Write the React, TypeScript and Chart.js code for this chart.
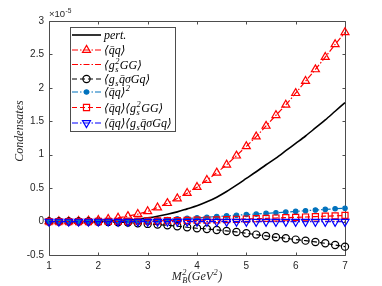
import React, { useEffect, useRef } from 'react';
import { Chart, registerables } from 'chart.js';
import { drawPoint } from 'chart.js/helpers';

Chart.register(...registerables);

// Borel parameter M_B^2 (GeV^2)
const M2 = [1.0, 1.2, 1.4, 1.6, 1.8, 2.0, 2.2, 2.4, 2.6, 2.8, 3.0, 3.2, 3.4, 3.6, 3.8, 4.0, 4.2, 4.4, 4.6, 4.8, 5.0, 5.2, 5.4, 5.6, 5.8, 6.0, 6.2, 6.4, 6.6, 6.8, 7.0];

// values in units of 1e-5
const PERT = [0, 0, 0, 0, 0.001, 0.003, 0.007, 0.013, 0.022, 0.035, 0.055, 0.08, 0.11, 0.145, 0.19, 0.235, 0.295, 0.365, 0.45, 0.545, 0.645, 0.745, 0.85, 0.95, 1.06, 1.17, 1.28, 1.40, 1.52, 1.65, 1.78];
const QQ = [0.002, 0.003, 0.004, 0.006, 0.012, 0.022, 0.036, 0.055, 0.08, 0.112, 0.152, 0.21, 0.275, 0.345, 0.425, 0.515, 0.62, 0.73, 0.85, 0.985, 1.125, 1.27, 1.43, 1.59, 1.745, 1.92, 2.10, 2.275, 2.46, 2.65, 2.83];
const GGG = [0.001, 0.001, 0.001, 0.002, 0.002, 0.002, 0.002, 0.003, 0.003, 0.003, 0.003, 0.003, 0.003, 0.004, 0.004, 0.004, 0.004, 0.004, 0.004, 0.004, 0.005, 0.005, 0.005, 0.005, 0.005, 0.005, 0.005, 0.005, 0.005, 0.005, 0.005];
const MIXED = [0, 0, 0, 0, 0, -0.002, -0.005, -0.01, -0.015, -0.025, -0.035, -0.045, -0.055, -0.07, -0.085, -0.1, -0.11, -0.125, -0.14, -0.155, -0.175, -0.195, -0.215, -0.235, -0.25, -0.27, -0.285, -0.305, -0.325, -0.35, -0.375];
const QQ2 = [0, 0, 0, 0.001, 0.001, 0.002, 0.003, 0.005, 0.01, 0.015, 0.02, 0.025, 0.032, 0.04, 0.048, 0.055, 0.065, 0.075, 0.085, 0.095, 0.105, 0.112, 0.122, 0.132, 0.142, 0.152, 0.162, 0.172, 0.182, 0.192, 0.2];
const QQ_GG = [0, 0, 0, 0, 0, 0.001, 0.002, 0.003, 0.005, 0.007, 0.009, 0.011, 0.013, 0.015, 0.018, 0.02, 0.023, 0.026, 0.03, 0.034, 0.038, 0.043, 0.048, 0.053, 0.058, 0.063, 0.068, 0.074, 0.08, 0.086, 0.092];
const QQ_MIXED = [0, 0, 0, 0, 0, 0, 0, -0.001, -0.001, -0.001, -0.001, -0.001, -0.001, -0.002, -0.002, -0.002, -0.002, -0.002, -0.002, -0.002, -0.002, -0.003, -0.003, -0.003, -0.003, -0.003, -0.003, -0.003, -0.003, -0.003, -0.003];

const X_MIN = 1, X_MAX = 7, X_STEP = 1;
const Y_MIN = -0.5, Y_MAX = 3, Y_STEP = 0.5;

type Tok = { t: string; sub?: string; sup?: string };

const QB = 'q\u0304q';
const LABELS: Tok[][] = [
  [{ t: 'pert.' }],
  [{ t: '⟨' + QB + '⟩' }],
  [{ t: '⟨g', sub: 's', sup: '2' }, { t: 'GG⟩' }],
  [{ t: '⟨g', sub: 's' }, { t: 'q\u0304σGq⟩' }],
  [{ t: '⟨' + QB + '⟩', sup: '2' }],
  [{ t: '⟨' + QB + '⟩⟨g', sub: 's', sup: '2' }, { t: 'GG⟩' }],
  [{ t: '⟨' + QB + '⟩⟨g', sub: 's' }, { t: 'q\u0304σGq⟩' }],
];
const X_TITLE: Tok[] = [{ t: 'M', sub: 'B', sup: '2' }, { t: '(GeV', sup: '2' }, { t: ')' }];
const Y_TITLE = 'Condensates';
const EXPONENT: Tok[] = [{ t: '×10', sup: '-5' }];

const MATLAB_BLUE = '#0072BD';
const SERIES = [
  { data: PERT, color: '#000000', dash: [] as number[], lw: 1.6, marker: null as any, r: 0, rot: 0, fill: 'rgba(0,0,0,0)' },
  { data: QQ, color: '#FF0000', dash: [6, 2, 1.5, 2], lw: 1.2, marker: 'triangle', r: 4.6, rot: 0, fill: 'rgba(0,0,0,0)' },
  { data: GGG, color: '#FF0000', dash: [6, 2, 1.5, 2], lw: 1.2, marker: null, r: 0, rot: 0, fill: 'rgba(0,0,0,0)' },
  { data: MIXED, color: '#000000', dash: [5, 3], lw: 1.2, marker: 'circle', r: 3.6, rot: 0, fill: 'rgba(0,0,0,0)' },
  { data: QQ2, color: MATLAB_BLUE, dash: [6, 2, 1.5, 2], lw: 1.2, marker: 'circle', r: 2.2, rot: 0, fill: MATLAB_BLUE },
  { data: QQ_GG, color: '#FF0000', dash: [5, 3], lw: 1.2, marker: 'rect', r: 4.3, rot: 0, fill: 'rgba(0,0,0,0)' },
  { data: QQ_MIXED, color: '#0000FF', dash: [6, 2, 1.5, 2], lw: 1.2, marker: 'triangle', r: 4.6, rot: 180, fill: 'rgba(0,0,0,0)' },
];

const LEG_BOX = { x: 70, y: 27, w: 105, h: 104 };
const LEG_ROWS = [35, 50, 64.5, 79, 92, 107.5, 123];

function drawMath(ctx: CanvasRenderingContext2D, toks: Tok[], x: number, y: number, size: number, family: string, style: string) {
  let cx = x;
  for (const tk of toks) {
    ctx.font = `${style} ${size}px ${family}`;
    ctx.fillText(tk.t, cx, y);
    cx += ctx.measureText(tk.t).width;
    const s2 = size * 0.7;
    ctx.font = `${style} ${s2}px ${family}`;
    let adv = 0;
    if (tk.sup) {
      ctx.fillText(tk.sup, cx + 0.5, y - size * 0.4);
      adv = Math.max(adv, ctx.measureText(tk.sup).width);
    }
    if (tk.sub) {
      ctx.fillText(tk.sub, cx + 0.5, y + size * 0.25);
      adv = Math.max(adv, ctx.measureText(tk.sub).width);
    }
    if (adv) cx += adv + 1;
  }
  return cx - x;
}

function measureMath(ctx: CanvasRenderingContext2D, toks: Tok[], size: number, family: string, style: string) {
  let w = 0;
  for (const tk of toks) {
    ctx.font = `${style} ${size}px ${family}`;
    w += ctx.measureText(tk.t).width;
    ctx.font = `${style} ${size * 0.7}px ${family}`;
    let adv = 0;
    if (tk.sup) adv = Math.max(adv, ctx.measureText(tk.sup).width);
    if (tk.sub) adv = Math.max(adv, ctx.measureText(tk.sub).width);
    if (adv) w += adv + 1;
  }
  return w;
}

const SERIF = "'Liberation Serif', 'DejaVu Serif', serif";
const SANS = "'Liberation Sans', Arial, sans-serif";

const decorPlugin = {
  id: 'decor',
  beforeDatasetsDraw(chart: any) {
    const { ctx, chartArea: a, scales } = chart;
    const L = Math.round(a.left) + 0.5, R = Math.round(a.right) + 0.5;
    const T = Math.round(a.top) + 0.5, B = Math.round(a.bottom) + 0.5;
    ctx.save();
    ctx.strokeStyle = '#4d4d4d';
    ctx.lineWidth = 1;
    ctx.beginPath();
    ctx.rect(L, T, R - L, B - T);
    const tl = 3;
    scales.x.ticks.forEach((t: any) => {
      const px = Math.round(scales.x.getPixelForValue(t.value)) + 0.5;
      ctx.moveTo(px, B); ctx.lineTo(px, B - tl);
      ctx.moveTo(px, T); ctx.lineTo(px, T + tl);
    });
    scales.y.ticks.forEach((t: any) => {
      const py = Math.round(scales.y.getPixelForValue(t.value)) + 0.5;
      ctx.moveTo(L, py); ctx.lineTo(L + tl, py);
      ctx.moveTo(R, py); ctx.lineTo(R - tl, py);
    });
    ctx.stroke();
    ctx.restore();
  },
  afterDatasetsDraw(chart: any) {
    const { ctx } = chart;
    ctx.save();
    ctx.fillStyle = '#ffffff';
    ctx.fillRect(LEG_BOX.x, LEG_BOX.y, LEG_BOX.w, LEG_BOX.h);
    ctx.strokeStyle = '#4d4d4d';
    ctx.lineWidth = 1;
    ctx.strokeRect(LEG_BOX.x + 0.5, LEG_BOX.y + 0.5, LEG_BOX.w, LEG_BOX.h);
    SERIES.forEach((s, i) => {
      const y = LEG_ROWS[i];
      ctx.save();
      ctx.strokeStyle = s.color;
      ctx.lineWidth = s.lw;
      ctx.setLineDash(s.dash);
      ctx.beginPath();
      ctx.moveTo(72, y);
      ctx.lineTo(101, y);
      ctx.stroke();
      ctx.setLineDash([]);
      if (s.marker) {
        ctx.fillStyle = s.fill;
        ctx.strokeStyle = s.color;
        ctx.lineWidth = 1.2;
        drawPoint(ctx, { pointStyle: s.marker, radius: s.r, rotation: s.rot, borderWidth: 1.2 } as any, 86.5, y);
      }
      ctx.restore();
      ctx.fillStyle = '#000000';
      ctx.textBaseline = 'alphabetic';
      ctx.textAlign = 'left';
      drawMath(ctx, LABELS[i], 104, y + 4, 12, SERIF, 'italic');
    });
    ctx.restore();
  },
  afterDraw(chart: any) {
    const { ctx, chartArea: a } = chart;
    ctx.save();
    ctx.fillStyle = '#262626';
    ctx.textAlign = 'left';
    ctx.textBaseline = 'alphabetic';
    // x title
    const w = measureMath(ctx, X_TITLE, 12, SERIF, 'italic');
    const cx = (a.left + a.right) / 2;
    drawMath(ctx, X_TITLE, cx - w / 2, 280, 12, SERIF, 'italic');
    // y title
    ctx.save();
    ctx.translate(23, 131);
    ctx.rotate(-Math.PI / 2);
    ctx.font = `italic 12px ${SERIF}`;
    ctx.textAlign = 'center';
    ctx.fillText(Y_TITLE, 0, 0);
    ctx.restore();
    // exponent
    drawMath(ctx, EXPONENT, a.left, a.top - 4, 9.5, SANS, 'normal');
    ctx.restore();
  },
};

const fmt = (v: any) => String(Math.round(Number(v) * 100) / 100);

export default function App() {
  const ref = useRef<HTMLCanvasElement | null>(null);
  useEffect(() => {
    if (!ref.current) return;
    const datasets = SERIES.map((s, i) => ({
      data: M2.map((x, j) => ({ x, y: s.data[j] })),
      borderColor: s.color,
      backgroundColor: s.fill,
      borderWidth: s.lw,
      borderDash: s.dash,
      pointStyle: s.marker || 'circle',
      pointRadius: s.marker ? s.r : 0,
      pointRotation: s.rot,
      pointBorderColor: s.color,
      pointBackgroundColor: s.fill,
      pointBorderWidth: 1.2,
      tension: i === 0 ? 0.3 : 0,
      fill: false,
      clip: false as any,
      order: SERIES.length - 1 - i,
    }));
    const tickFont = { family: SANS, size: 10 };
    const chart = new Chart(ref.current, {
      type: 'line',
      data: { datasets },
      plugins: [decorPlugin],
      options: {
        animation: false,
        responsive: false,
        events: [],
        layout: { padding: { top: 21, right: 37, left: 0, bottom: 0 } },
        plugins: { legend: { display: false }, tooltip: { enabled: false } },
        scales: {
          x: {
            type: 'linear', min: X_MIN, max: X_MAX,
            ticks: { stepSize: X_STEP, font: tickFont, color: '#262626', padding: 5, callback: fmt },
            grid: { display: false, drawTicks: false },
            border: { display: false },
            afterFit: (s: any) => { s.height = 31; },
          },
          y: {
            type: 'linear', min: Y_MIN, max: Y_MAX,
            ticks: { stepSize: Y_STEP, font: tickFont, color: '#262626', padding: 5, callback: fmt },
            grid: { display: false, drawTicks: false },
            border: { display: false },
            afterFit: (s: any) => { s.width = 49; },
          },
        },
      } as any,
    });
    return () => chart.destroy();
  }, []);
  return (
    <div style={{ position: 'absolute', left: 0, top: 0, width: 382, height: 286, background: '#fff' }}>
      <canvas ref={ref} width={382} height={286} style={{ display: 'block' }} />
    </div>
  );
}
